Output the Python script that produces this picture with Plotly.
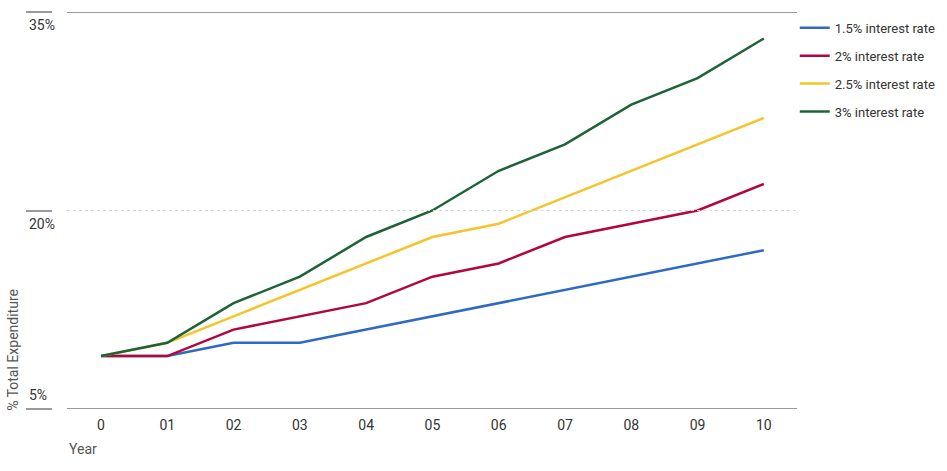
import plotly.graph_objects as go

years = ["0", "01", "02", "03", "04", "05", "06", "07", "08", "09", "10"]
rate_15 = [9, 9, 10, 10, 11, 12, 13, 14, 15, 16, 17]
rate_20 = [9, 9, 11, 12, 13, 15, 16, 18, 19, 20, 22]
rate_25 = [9, 10, 12, 14, 16, 18, 19, 21, 23, 25, 27]
rate_30 = [9, 10, 13, 15, 18, 20, 23, 25, 28, 30, 33]
series_names = ["1.5% interest rate", "2% interest rate", "2.5% interest rate", "3% interest rate"]
series_colors = ["#2E6AC2", "#B2063F", "#F5C42C", "#1D6335"]
y_ticks = [35, 20, 5]
y_tick_labels = ["35%", "20%", "5%"]
Y_MIN, Y_MAX = 5, 35

FONT = "Roboto, sans-serif"
GRID_X0 = 14 / 744  # gridlines start a little right of the y tick marks

fig = go.Figure()
for i, (name, vals, col) in enumerate(zip(series_names, [rate_15, rate_20, rate_25, rate_30], series_colors)):
    fig.add_trace(go.Scatter(x=years, y=vals, mode="lines", name=name, legendgroup=f"g{i}",
                             line=dict(color=col, width=2.5)))

shapes = []
annotations = []
for v, lab in zip(y_ticks, y_tick_labels):
    if v == 20:
        shapes.append(dict(type="line", xref="paper", yref="y", x0=GRID_X0, x1=1, y0=v, y1=v,
                           line=dict(color="#d8d8d8", width=1, dash="dot")))
    else:
        shapes.append(dict(type="line", xref="paper", yref="y", x0=GRID_X0, x1=1, y0=v, y1=v,
                           line=dict(color="#9a9a9a", width=2)))
    annotations.append(dict(xref="paper", yref="y", x=-0.0349, y=v, xanchor="left", yanchor="middle",
                            yshift=(14 if v == 5 else -13), text=lab, showarrow=False,
                            font=dict(size=14, color="#333333", family=FONT)))

annotations.append(dict(xref="paper", yref="paper", x=GRID_X0, y=-0.1008, xanchor="left", yanchor="middle",
                        text="Year", showarrow=False, font=dict(size=14, color="#555555", family=FONT)))
annotations.append(dict(xref="paper", yref="paper", x=-0.0538, y=0.149, xanchor="center", yanchor="middle",
                        text="% Total Expenditure", textangle=-90, showarrow=False,
                        font=dict(size=14, color="#555555", family=FONT)))

fig.update_layout(
    width=947, height=471,
    margin=dict(l=53, r=150, t=12, b=62, autoexpand=False),
    plot_bgcolor="white", paper_bgcolor="white",
    font=dict(family=FONT, size=14, color="#333333"),
    xaxis=dict(type="category", range=[-0.724, 10.5], showgrid=False, zeroline=False,
               showline=False, ticks="", tickfont=dict(size=14, color="#333333"),
               ticklabelstandoff=6),
    yaxis=dict(range=[Y_MIN, Y_MAX], showgrid=False, zeroline=False, showline=False,
               showticklabels=False, ticks="outside", ticklen=26, tickwidth=2,
               tickcolor="#9a9a9a", tickmode="array", tickvals=y_ticks),
    legend=dict(x=0.997, y=0.998, xanchor="left", yanchor="top", tracegroupgap=8,
                font=dict(size=13, color="#333333", family=FONT), itemwidth=30,
                bgcolor="rgba(0,0,0,0)"),
    shapes=shapes, annotations=annotations,
)

fig.write_html("out.html")
